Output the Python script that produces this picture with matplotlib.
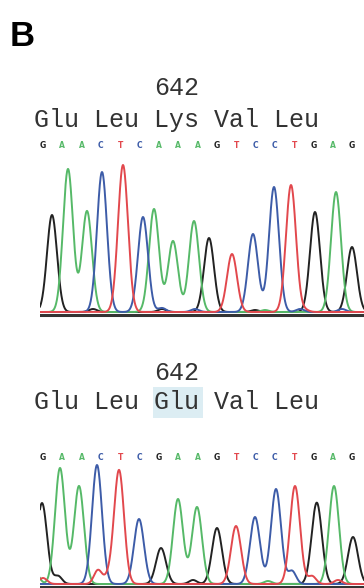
import numpy as np
import matplotlib
matplotlib.use("Agg")
from matplotlib import pyplot as plt
from matplotlib.patches import Rectangle

W, H = 364, 588

# base calls and amino acids
bases_wt = list("GAACTCAAAGTCCTGAG")
bases_mut = list("GAACTCGAAGTCCTGAG")
aa_wt = ["Glu", "Leu", "Lys", "Val", "Leu"]
aa_mut = ["Glu", "Leu", "Glu", "Val", "Leu"]
codon_label = "642"

# main peaks (scan position, height) per base
wt_pos = [52, 68, 87, 102, 123, 143, 154, 173, 194, 209, 232, 253, 274, 291, 315, 336, 352]
wt_height = [97, 143, 101, 140, 147, 95, 103, 71, 91, 74, 58, 78, 125, 127, 100, 120, 65]
mut_pos = [42, 60, 79, 97, 119, 139, 161, 178, 197, 217, 236, 255, 276, 295, 317, 334, 353]
mut_height = [81, 116, 98, 119, 114, 65, 36, 85, 77, 56, 58, 67, 95, 98, 79, 98, 47]

# small background peaks (base, position, height)
wt_minor = [("G", 93, 3), ("C", 162, 4), ("G", 162, 3), ("C", 195, 3), ("G", 255, 2),
            ("A", 265, 2), ("C", 300, 3), ("T", 305, 2), ("C", 342, 3)]
mut_minor = [("A", 35, 13), ("T", 43, 6), ("T", 98, 14), ("T", 108, 6), ("G", 193, 4),
             ("G", 58, 8), ("A", 268, 3), ("C", 292, 13), ("T", 312, 8), ("G", 312, 5),
             ("T", 338, 4)]

colors = {"G": "#222222", "A": "#56b968", "C": "#3d5ca8", "T": "#e2484d"}
draw_order = ["G", "A", "C", "T"]


def trace(x, base, calls, pos, height, minor, sigma=5.0):
    y = np.full_like(x, 1.0)
    for b, p, h in zip(calls, pos, height):
        if b == base:
            y += h * np.exp(-(x - p) ** 2 / (2 * sigma ** 2))
    for b, p, h in minor:
        if b == base:
            y += h * np.exp(-(x - p) ** 2 / (2 * 4.0 ** 2))
    return y


def px_axes(fig, x0, y_top, x1, y_bottom):
    return fig.add_axes([x0 / W, 1 - y_bottom / H, (x1 - x0) / W, (y_bottom - y_top) / H])


fig = plt.figure(figsize=(W / 100, H / 100), dpi=100)

# chromatograms
x = np.linspace(40, 364, 2000)
panels = [
    (bases_wt, wt_pos, wt_height, wt_minor, (160, 318), (-5, 153)),
    (bases_mut, mut_pos, mut_height, mut_minor, (460, 588), (-3, 125)),
]
for calls, pos, height, minor, (top, bottom), ylim in panels:
    ax = px_axes(fig, 40, top, 364, bottom)
    ax.axhline(-1.5, color="#333333", lw=2.2, zorder=1)
    for b in draw_order:
        ax.plot(x, trace(x, b, calls, pos, height, minor), color=colors[b], lw=1.4, zorder=2)
    ax.set_xlim(40, 364)
    ax.set_ylim(*ylim)
    ax.axis("off")

# text overlay in pixel coordinates
ov = fig.add_axes([0, 0, 1, 1], zorder=-1)
ov.set_xlim(0, W)
ov.set_ylim(H, 0)
ov.axis("off")

mono = ["Liberation Mono", "DejaVu Sans Mono"]
ov.text(10, 46, "B", fontsize=25, fontweight="bold", family="Liberation Sans", va="baseline")

ov.add_patch(Rectangle((153, 387), 50, 31, color="#dcedf3", lw=0))

base_x = np.linspace(43, 352, 17)
for aa, calls, y_num, y_aa, y_base in [(aa_wt, bases_wt, 88, 120, 146),
                                        (aa_mut, bases_mut, 373, 402, 457)]:
    ov.text(177, y_num, codon_label, fontsize=18, family=mono, ha="center", va="center",
            color="#333333")
    ov.text(177, y_aa, " ".join(aa), fontsize=18, family=mono, ha="center", va="center",
            color="#333333")
    for bx, b in zip(base_x, calls):
        ov.text(bx, y_base, b, fontsize=5.5, fontweight="bold", ha="center", va="center",
                color=colors[b])

fig.savefig("out.png", dpi=100)
